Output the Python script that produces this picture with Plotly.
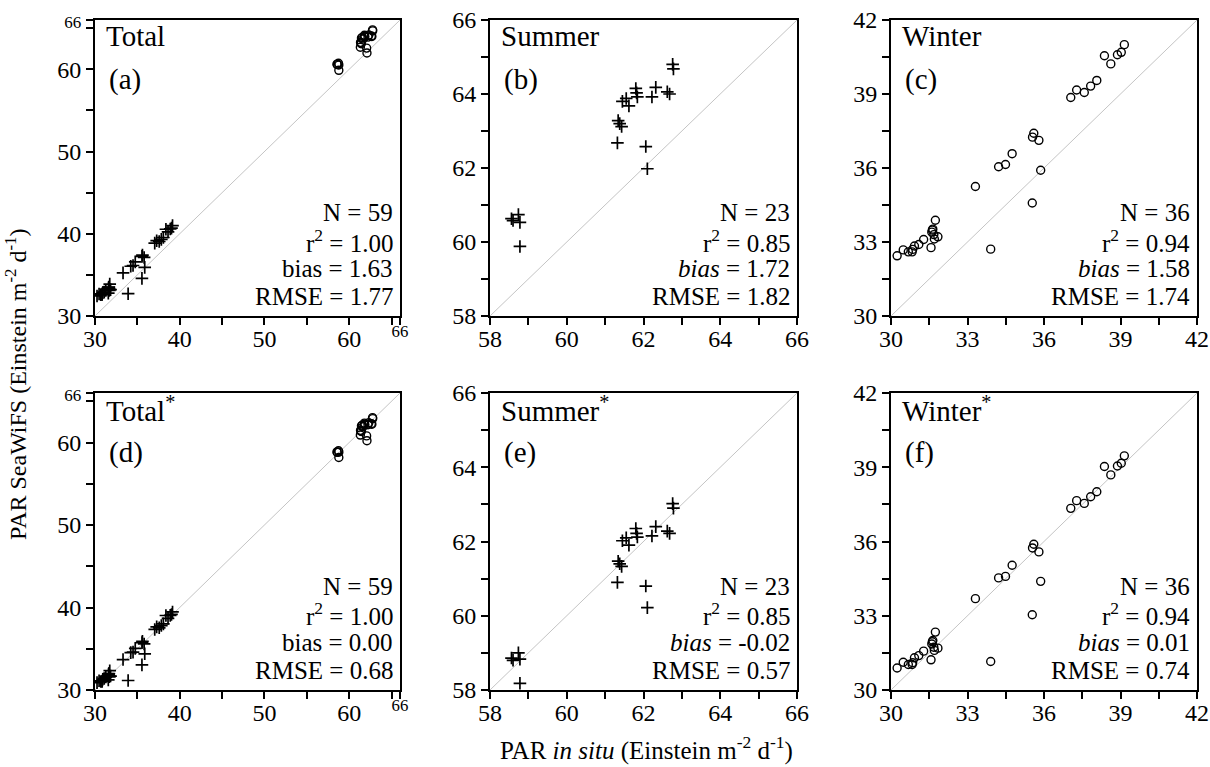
import plotly.graph_objects as go

# ---------------- data ----------------
summer_insitu = [58.56, 58.60, 58.74, 58.78, 58.78, 61.32, 61.34, 61.38, 61.43, 61.45,
                 61.55, 61.62, 61.80, 61.82, 61.84, 62.06, 62.10, 62.22, 62.32, 62.62,
                 62.68, 62.76, 62.78]
summer_seawifs = [60.63, 60.58, 60.74, 60.53, 59.88, 62.68, 63.28, 63.20, 63.12, 63.80,
                  63.88, 63.68, 64.15, 64.03, 63.92, 62.58, 61.98, 63.92, 64.18, 64.06,
                  64.00, 64.80, 64.68]
summer_seawifs_corr = [58.86, 58.80, 59.00, 58.83, 58.18, 60.90, 61.47, 61.40, 61.33, 62.02,
                       62.10, 61.90, 62.35, 62.22, 62.12, 60.80, 60.22, 62.15, 62.40, 62.28,
                       62.22, 63.02, 62.90]

winter_insitu = [30.24, 30.48, 30.68, 30.83, 30.85, 30.92, 31.09, 31.28, 31.57, 31.60,
                 31.62, 31.64, 31.68, 31.74, 31.84, 31.70, 33.31, 33.91, 34.22, 34.49,
                 34.75, 35.54, 35.55, 35.60, 35.80, 35.87, 37.05, 37.28, 37.58, 37.83,
                 38.07, 38.37, 38.62, 38.88, 39.03, 39.15]
winter_seawifs = [32.44, 32.68, 32.60, 32.60, 32.70, 32.84, 32.90, 33.10, 32.77, 33.40,
                  33.48, 33.52, 33.30, 33.88, 33.21, 33.12, 35.25, 32.71, 36.05, 36.14,
                  36.58, 34.58, 37.25, 37.41, 37.12, 35.91, 38.86, 39.16, 39.06, 39.32,
                  39.55, 40.55, 40.22, 40.59, 40.69, 41.00]
winter_seawifs_corr = [30.89, 31.12, 31.03, 31.03, 31.10, 31.30, 31.39, 31.57, 31.22, 31.86,
                       31.95, 32.00, 31.73, 32.34, 31.69, 31.60, 33.69, 31.15, 34.53, 34.59,
                       35.04, 33.04, 35.74, 35.89, 35.58, 34.39, 37.34, 37.65, 37.54, 37.81,
                       38.01, 39.03, 38.69, 39.05, 39.16, 39.46]

panel_titles = ["Total", "Summer", "Winter", "Total<sup>*</sup>", "Summer<sup>*</sup>", "Winter<sup>*</sup>"]
panel_letters = ["(a)", "(b)", "(c)", "(d)", "(e)", "(f)"]
stat_N = ["59", "23", "36", "59", "23", "36"]
stat_r2 = ["1.00", "0.85", "0.94", "1.00", "0.85", "0.94"]
stat_bias = ["1.63", "1.72", "1.58", "0.00", "-0.02", "0.01"]
stat_rmse = ["1.77", "1.82", "1.74", "0.68", "0.57", "0.74"]
bias_italic = [False, True, True, False, True, True]

total_ticks = [30, 40, 50, 60, 66]
summer_ticks = [58, 60, 62, 64, 66]
winter_ticks = [30, 33, 36, 39, 42]
total_minor = [35, 45, 55, 65]
summer_minor = [59, 61, 63, 65]
winter_minor = [31.5, 34.5, 37.5, 40.5]

# ---------------- layout geometry ----------------
W, H = 1210, 767
FONT = "Liberation Serif, Times New Roman, serif"
col_px = [(95, 400), (490, 797), (891, 1197)]
row_px = [(20, 316), (393, 690)]

ranges = [[30, 66], [58, 66], [30, 42]]
ticks = [total_ticks, summer_ticks, winter_ticks]
minors = [total_minor, summer_minor, winter_minor]

fig = go.Figure()

# panel data: (x_circle, y_circle, x_cross, y_cross)
panel_data = [
    (summer_insitu, summer_seawifs, winter_insitu, winter_seawifs),
    (None, None, summer_insitu, summer_seawifs),
    (winter_insitu, winter_seawifs, None, None),
    (summer_insitu, summer_seawifs_corr, winter_insitu, winter_seawifs_corr),
    (None, None, summer_insitu, summer_seawifs_corr),
    (winter_insitu, winter_seawifs_corr, None, None),
]

annotations = []
for i in range(6):
    r, c = divmod(i, 3)
    n = i + 1
    xa = "x" if n == 1 else f"x{n}"
    ya = "y" if n == 1 else f"y{n}"
    rng = ranges[c]
    fig.add_trace(go.Scatter(x=rng, y=rng, mode="lines", xaxis=xa, yaxis=ya,
                             line=dict(color="#c4c4c4", width=1), showlegend=False,
                             hoverinfo="skip"))
    xc, yc, xx, yx = panel_data[i]
    if xc is not None:
        fig.add_trace(go.Scatter(x=xc, y=yc, mode="markers", xaxis=xa, yaxis=ya,
                                 marker=dict(symbol="circle-open", size=8,
                                             color="black", line=dict(width=1.4, color="black")),
                                 showlegend=False))
    if xx is not None:
        fig.add_trace(go.Scatter(x=xx, y=yx, mode="markers", xaxis=xa, yaxis=ya,
                                 marker=dict(symbol="cross-thin-open", size=9,
                                             color="black", line=dict(width=1.7, color="black")),
                                 showlegend=False))

    x0, x1 = col_px[c]
    y0, y1 = row_px[r]
    xdom = [x0 / W, x1 / W]
    ydom = [1 - y1 / H, 1 - y0 / H]
    tv = ticks[c]
    mv = minors[c]
    if c == 0:
        xtt = [str(v) for v in tv[:-1]] + ["<sup>66</sup>"]
        ytt = [str(v) for v in tv[:-1]] + ['<span style="font-size:17px">66</span>']
    else:
        xtt = [str(v) for v in tv]
        ytt = [str(v) for v in tv]
    allv = list(tv) + list(mv)
    xtt_all = xtt + [""] * len(mv)
    ytt_all = ytt + [""] * len(mv)
    common = dict(range=rng, showgrid=False, zeroline=False, showline=True, mirror=True,
                  automargin=False,
                  linecolor="black", linewidth=2, ticks="outside", ticklen=7, tickwidth=1.5,
                  tickcolor="black", tickfont=dict(family=FONT, size=24, color="black"),
                  tickmode="array", tickvals=allv)
    fig.layout[("xaxis" if n == 1 else f"xaxis{n}")] = dict(
        domain=xdom, anchor=ya, ticktext=xtt_all, ticklabelstandoff=-7, **common)
    fig.layout[("yaxis" if n == 1 else f"yaxis{n}")] = dict(
        domain=ydom, anchor=xa, ticktext=ytt_all, **common)

    xr = f"{xa} domain"
    yr = f"{ya} domain"
    annotations.append(dict(text=panel_titles[i], x=0.03, y=0.945, xref=xr, yref=yr,
                            xanchor="left", yanchor="middle", showarrow=False,
                            font=dict(family=FONT, size=29, color="black")))
    annotations.append(dict(text=panel_letters[i], x=0.04, y=0.80, xref=xr, yref=yr,
                            xanchor="left", yanchor="middle", showarrow=False,
                            font=dict(family=FONT, size=29, color="black")))
    bias_label = "<i>bias</i>" if bias_italic[i] else "bias"
    lines = [f"N = {stat_N[i]}", f"r<sup>2</sup> = {stat_r2[i]}",
             f"{bias_label} = {stat_bias[i]}", f"RMSE = {stat_rmse[i]}"]
    ys = [0.35, 0.255, 0.16, 0.065]
    for t, yy in zip(lines, ys):
        annotations.append(dict(text=t, x=0.985, y=yy, xref=xr, yref=yr,
                                xanchor="right", yanchor="middle", showarrow=False,
                                font=dict(family=FONT, size=25, color="black")))

annotations.append(dict(text="PAR <i>in situ</i> (Einstein m<sup>-2</sup> d<sup>-1</sup>)",
                        x=647 / W, y=1 - 748 / H, xref="paper", yref="paper",
                        xanchor="center", yanchor="middle", showarrow=False,
                        font=dict(family=FONT, size=25, color="black")))
annotations.append(dict(text="PAR SeaWiFS (Einstein m<sup>-2</sup> d<sup>-1</sup>)",
                        x=16 / W, y=1 - 385 / H, xref="paper", yref="paper",
                        xanchor="center", yanchor="middle", showarrow=False, textangle=-90,
                        font=dict(family=FONT, size=24, color="black")))

fig.update_layout(width=W, height=H, autosize=False,
                  margin=dict(l=0, r=0, t=0, b=0, autoexpand=False),
                  paper_bgcolor="white", plot_bgcolor="white",
                  font=dict(family=FONT, color="black"),
                  annotations=annotations, showlegend=False)

fig.write_html("out.html", config={"displayModeBar": False},
               post_script="document.body.style.margin='0';document.body.style.overflow='hidden';")
